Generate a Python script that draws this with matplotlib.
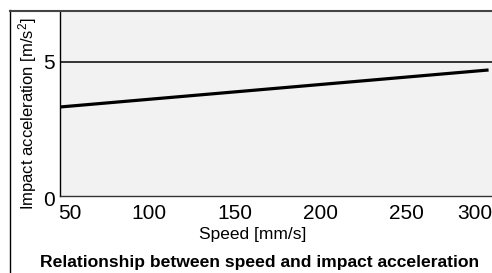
import matplotlib
matplotlib.use("Agg")
import matplotlib.pyplot as plt
import matplotlib.transforms as mtransforms
from matplotlib.lines import Line2D

speed = [48, 298]
accel = [3.32, 4.70]
xticks = [50, 100, 150, 200, 250, 300]
yticks = [0, 5]

plt.rcParams['font.family'] = ['Liberation Sans', 'DejaVu Sans']
plt.rcParams['mathtext.fontset'] = 'custom'
plt.rcParams['mathtext.rm'] = 'Liberation Sans'
plt.rcParams['mathtext.it'] = 'Liberation Sans'

W, H = 492, 273
fig = plt.figure(figsize=(W / 100, H / 100), dpi=100)
fig.patch.set_facecolor('white')

# axes box in pixels: left 60, right 492, top 11, bottom 196
ax = fig.add_axes([60 / W, 1 - 196 / H, (492 - 60) / W, (196 - 11) / H])
ax.set_facecolor('#f2f2f2')
ax.plot(speed, accel, color='black', lw=2.3, solid_capstyle='butt')
ax.axhline(5, color='black', lw=1.1)
ax.set_xlim(48, 298)
ax.set_ylim(0, 6.9)
ax.set_xticks(xticks)
ax.set_yticks(yticks)
ax.tick_params(length=0, labelsize=15)
ax.tick_params(axis='x', pad=6)
ax.tick_params(axis='y', pad=4)
for s in ['top', 'right']:
    ax.spines[s].set_visible(False)
ax.spines['left'].set_linewidth(1.0)
ax.spines['bottom'].set_linewidth(1.0)
ax.spines['bottom'].set_color('#333333')

fig.canvas.draw()
labs = ax.get_xticklabels()
labs[0].set_horizontalalignment('left')
labs[0].set_transform(labs[0].get_transform() + mtransforms.ScaledTranslation(-4 / 72, 0, fig.dpi_scale_trans))
labs[-1].set_horizontalalignment('right')
ylabs = ax.get_yticklabels()
ylabs[0].set_transform(ylabs[0].get_transform() + mtransforms.ScaledTranslation(0, -2 / 72, fig.dpi_scale_trans))

fig.text(28 / W, 1 - 114 / H, 'Impact acceleration [m/s$^\\mathrm{2}$]', rotation=90,
         ha='center', va='center', fontsize=12)
fig.text(253 / W, 1 - 235 / H, 'Speed [mm/s]', ha='center', va='center', fontsize=12.5)
fig.text(260 / W, 1 - 263 / H, 'Relationship between speed and impact acceleration',
         ha='center', va='center', fontsize=12.6, fontweight='bold')

# outer frame lines
fig.add_artist(Line2D([9.5 / W, 9.5 / W], [0, 1 - 10 / H], color='black', lw=1.0, transform=fig.transFigure))
fig.add_artist(Line2D([9.5 / W, 1], [1 - 10.5 / H, 1 - 10.5 / H], color='#444444', lw=1.5, transform=fig.transFigure))

fig.savefig('out.png', dpi=100)
